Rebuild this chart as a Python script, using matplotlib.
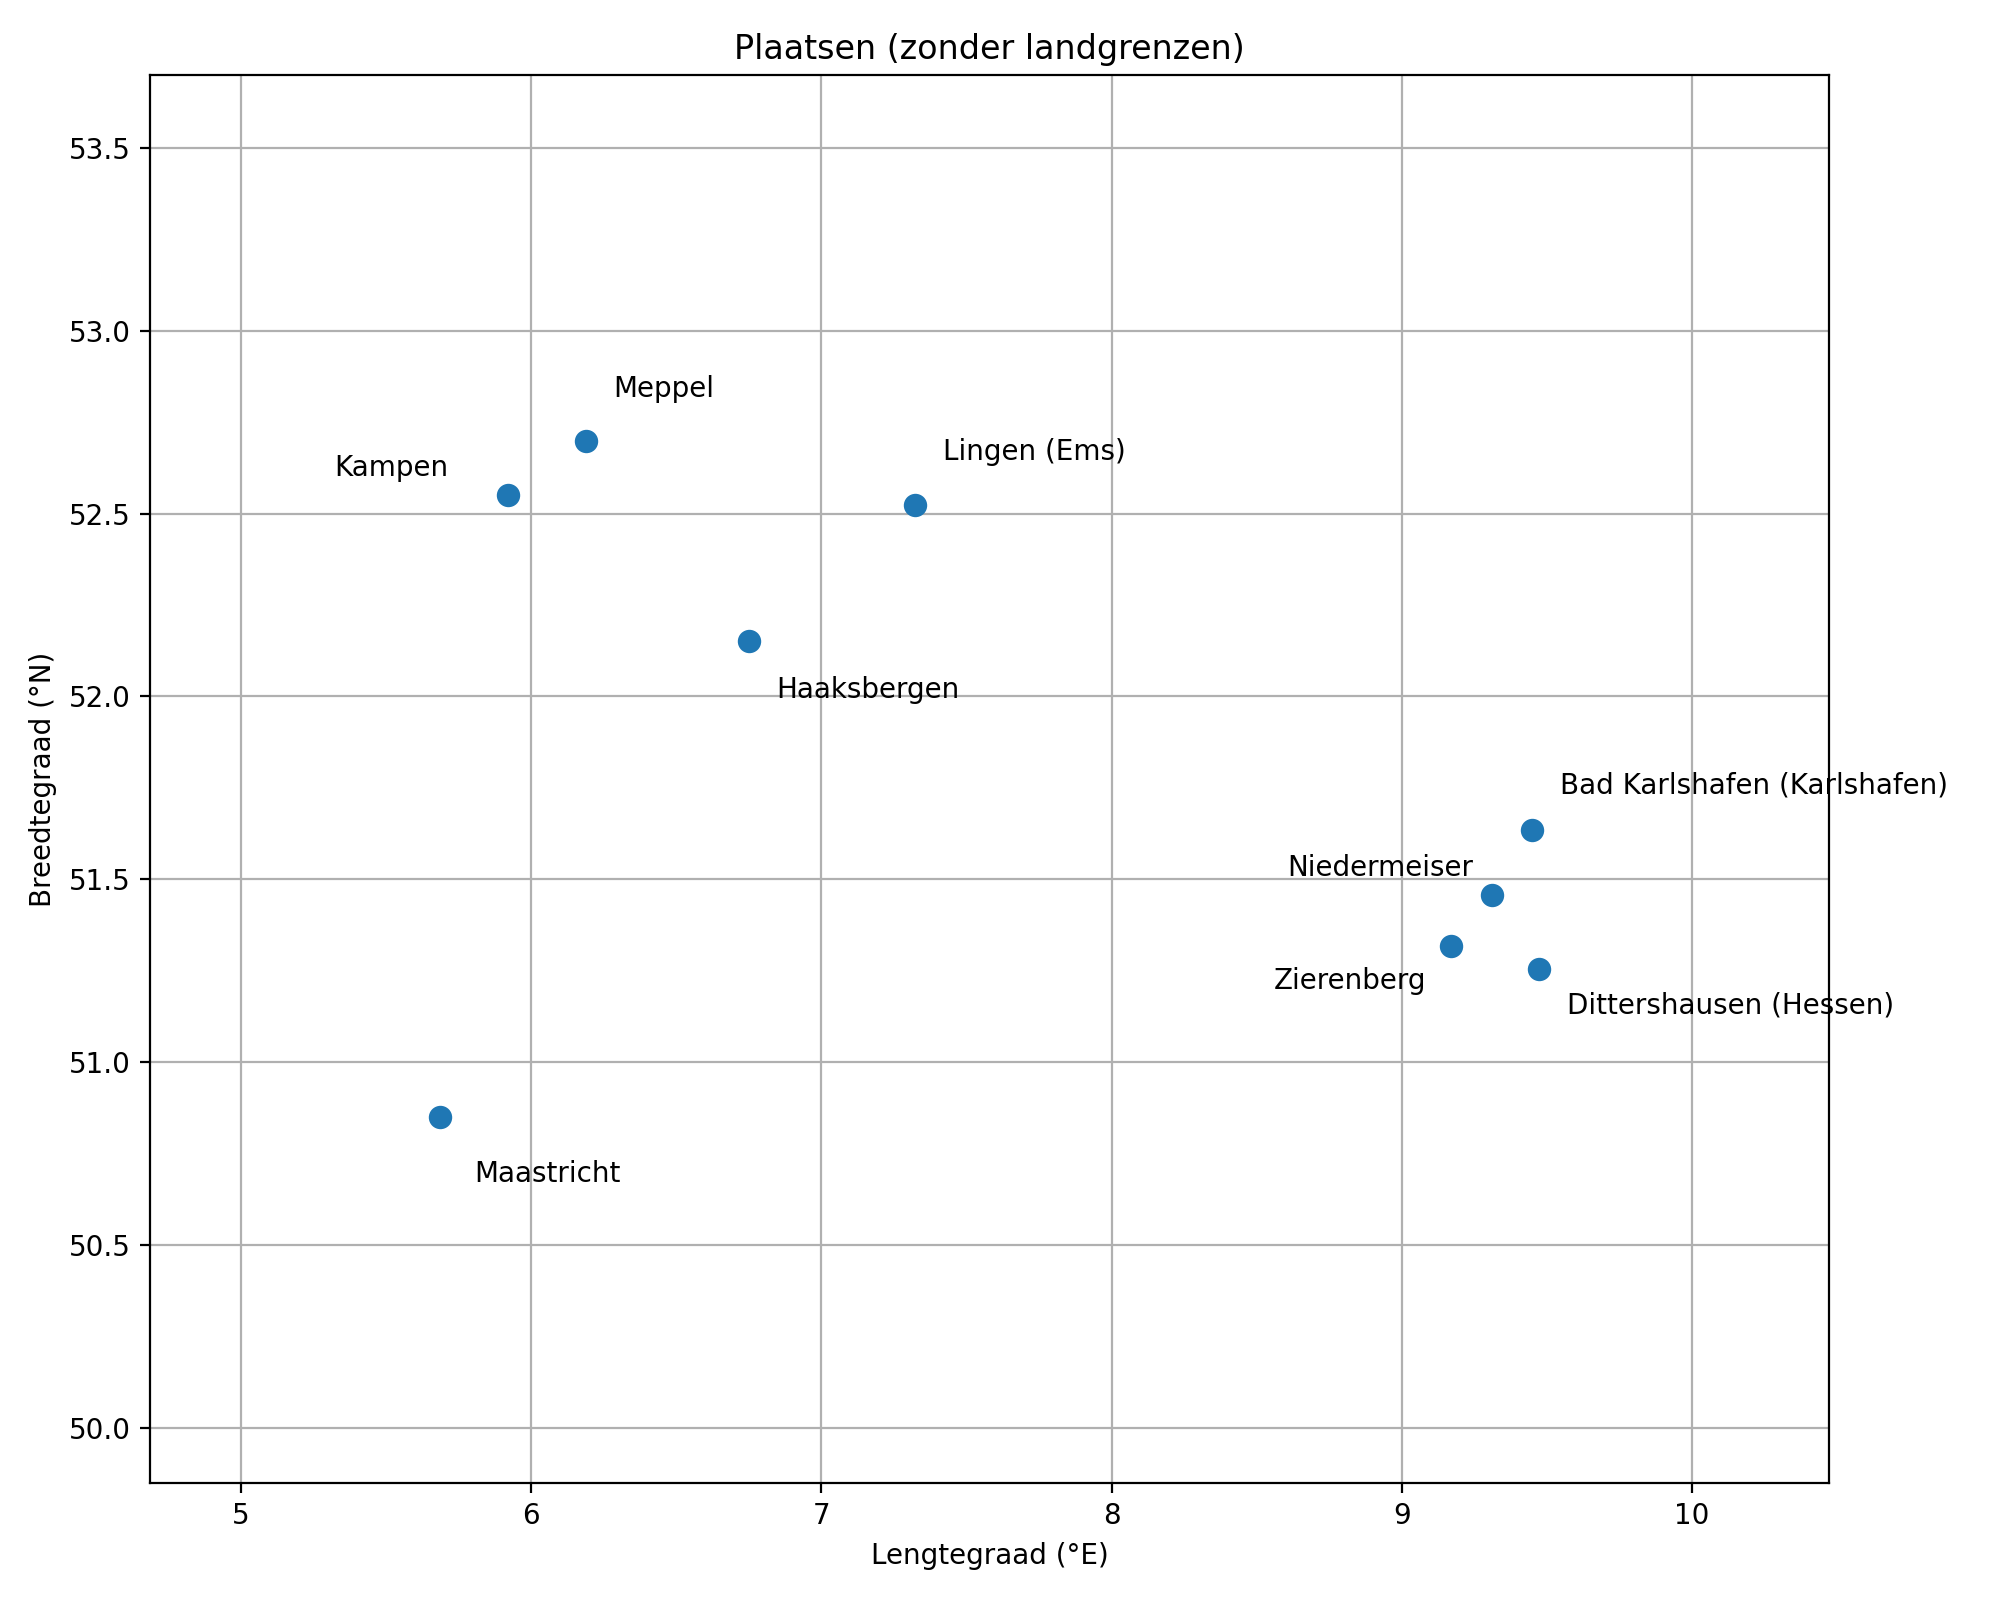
import matplotlib
matplotlib.use("Agg")
import matplotlib.pyplot as plt

# plaatsen met lengte- en breedtegraad
names = ["Maastricht", "Kampen", "Meppel", "Haaksbergen", "Lingen (Ems)",
         "Bad Karlshafen (Karlshafen)", "Niedermeiser", "Zierenberg",
         "Dittershausen (Hessen)"]
lons = [5.686, 5.919, 6.187, 6.750, 7.322, 9.450, 9.310, 9.169, 9.472]
lats = [50.850, 52.551, 52.698, 52.151, 52.524, 51.635, 51.457, 51.318, 51.255]

# label offsets (points) and alignment
offsets = [(12.1, -23.2), (-21.5, 6.7), (10, 16), (10, -20.4), (10, 16),
           (10, 13), (-6.8, 7), (-8.7, -15.6), (10, -16)]
aligns = ["left", "right", "left", "left", "left", "left", "right", "right", "left"]

fig, ax = plt.subplots(figsize=(10, 8), dpi=200)
ax.scatter(lons, lats, s=55, color="#1f77b4", zorder=3)

for name, x, y, off, ha in zip(names, lons, lats, offsets, aligns):
    ax.annotate(name, (x, y), xytext=off, textcoords="offset points", ha=ha)

ax.set_xlim(min(lons) - 1, max(lons) + 1)
ax.set_ylim(min(lats) - 1, max(lats) + 1)
ax.grid(True)
ax.set_xlabel("Lengtegraad (°E)")
ax.set_ylabel("Breedtegraad (°N)")
ax.set_title("Plaatsen (zonder landgrenzen)")

fig.subplots_adjust(left=0.075, right=0.9145, top=0.953, bottom=0.0731)
fig.savefig("out.png")
